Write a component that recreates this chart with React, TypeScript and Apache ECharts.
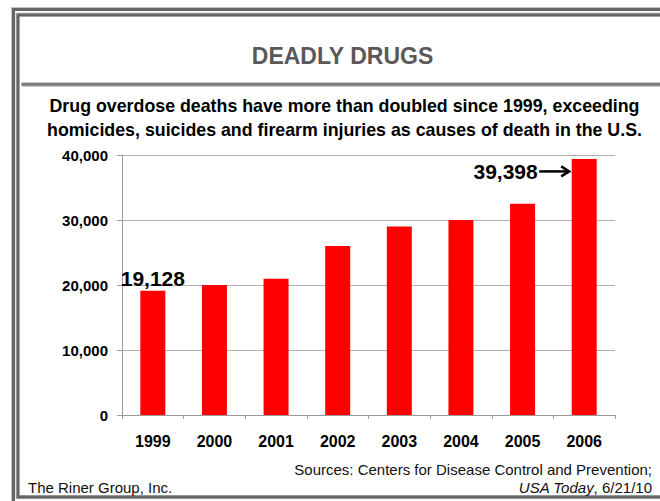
import React, { useEffect, useRef } from 'react';
import * as echarts from 'echarts';

const years = ['1999', '2000', '2001', '2002', '2003', '2004', '2005', '2006'];
const deaths = [19128, 20000, 20950, 26000, 29000, 30000, 32500, 39398];
const yMin = 0;
const yMax = 40000;
const yStep = 10000;
const titleText = 'DEADLY DRUGS';
const subtitleLines = [
  'Drug overdose deaths have more than doubled since 1999, exceeding',
  'homicides, suicides and firearm injuries as causes of death in the U.S.',
];
const creditText = 'The Riner Group, Inc.';
const sourceLine1 = 'Sources: Centers for Disease Control and Prevention;';
const sourcePublication = 'USA Today';
const sourceDate = ', 6/21/10';

const FONT = '"Liberation Sans", Arial, sans-serif';
const fmt = (v: number) => v.toLocaleString('en-US');

export default function App() {
  const ref = useRef<HTMLDivElement>(null);

  useEffect(() => {
    const chart = echarts.init(ref.current!, null, { renderer: 'svg' });
    const barWidth = 25;
    const lastIdx = deaths.length - 1;

    chart.setOption({
      animation: false,
      backgroundColor: '#ffffff',
      grid: { left: 122, right: 45, top: 155, bottom: 86, containLabel: false },
      xAxis: {
        type: 'category',
        data: years,
        axisLine: { show: true, lineStyle: { color: '#999999', width: 1 } },
        axisTick: { show: true, length: 4, lineStyle: { color: '#999999' } },
        axisLabel: {
          color: '#000000',
          fontFamily: FONT,
          fontWeight: 'bold',
          fontSize: 16,
          margin: 18,
        },
      },
      yAxis: {
        type: 'value',
        min: yMin,
        max: yMax,
        interval: yStep,
        axisLine: { show: true, lineStyle: { color: '#999999', width: 1 } },
        axisTick: { show: true, length: 5, lineStyle: { color: '#999999' } },
        splitLine: { show: true, lineStyle: { color: '#b0b0b0', width: 1 } },
        axisLabel: {
          color: '#000000',
          fontFamily: FONT,
          fontWeight: 'bold',
          fontSize: 15,
          margin: 14,
          formatter: (v: number) => fmt(v),
        },
      },
      series: [
        {
          type: 'bar',
          barWidth,
          itemStyle: { color: '#ff0000' },
          data: deaths.map((v, i) =>
            i === 0
              ? {
                  value: v,
                  label: {
                    show: true,
                    position: 'top',
                    distance: 2,
                    formatter: () => fmt(v),
                    color: '#000000',
                    fontFamily: FONT,
                    fontWeight: 'bold',
                    fontSize: 21,
                  },
                }
              : v
          ),
        },
      ],
    });

    const p = chart.convertToPixel({ seriesIndex: 0 }, [lastIdx, deaths[lastIdx]]) as number[];
    const barLeft = p[0] - barWidth / 2;
    const ay = p[1] + 12.5;
    const tipX = barLeft - 2.5;
    const startX = tipX - 30;

    const graphics: any[] = [
      // outer frame
      { type: 'rect', id: 'outerLight', silent: true, shape: { x: 13, y: 9, width: 700, height: 600 }, style: { fill: 'none', stroke: '#c4c4c4', lineWidth: 4 } },
      { type: 'rect', id: 'outerDark', silent: true, shape: { x: 13.5, y: 9.5, width: 700, height: 600 }, style: { fill: 'none', stroke: '#666666', lineWidth: 3 } },
      // inner frame
      { type: 'rect', id: 'innerLight', silent: true, shape: { x: 17.5, y: 14.5, width: 700, height: 482.5 }, style: { fill: 'none', stroke: '#c4c4c4', lineWidth: 4 } },
      { type: 'rect', id: 'innerDark', silent: true, shape: { x: 18, y: 15, width: 700, height: 482 }, style: { fill: 'none', stroke: '#666666', lineWidth: 3 } },
      // separator
      { type: 'rect', id: 'sepLight', silent: true, shape: { x: 21.5, y: 82, width: 700, height: 5 }, style: { fill: '#c4c4c4' } },
      { type: 'rect', id: 'sepDark', silent: true, shape: { x: 21.5, y: 83.3, width: 700, height: 2.2 }, style: { fill: '#6e6e6e' } },
      // title
      {
        type: 'text', id: 'title', x: 342.5, y: 55.5,
        style: { text: titleText, fill: '#595959', fontFamily: FONT, fontWeight: 'bold', fontSize: 23, align: 'center', verticalAlign: 'middle' },
      },
      {
        type: 'text', id: 'sub1', x: 344.5, y: 105.5,
        style: { text: subtitleLines[0], fill: '#000000', fontFamily: FONT, fontWeight: 'bold', fontSize: 17.8, align: 'center', verticalAlign: 'middle' },
      },
      {
        type: 'text', id: 'sub2', x: 344.5, y: 129.5,
        style: { text: subtitleLines[1], fill: '#000000', fontFamily: FONT, fontWeight: 'bold', fontSize: 17.8, align: 'center', verticalAlign: 'middle' },
      },
      // annotation for last bar
      {
        type: 'text', id: 'lastLabel', x: startX - 1.5, y: ay,
        style: { text: fmt(deaths[lastIdx]), fill: '#000000', fontFamily: FONT, fontWeight: 'bold', fontSize: 21, align: 'right', verticalAlign: 'middle' },
      },
      {
        type: 'line', id: 'arrowShaft', silent: true,
        shape: { x1: startX, y1: ay, x2: tipX - 1, y2: ay },
        style: { stroke: '#000000', lineWidth: 2.5 },
      },
      {
        type: 'polyline', id: 'arrowHead', silent: true,
        shape: { points: [[tipX - 8, ay - 5], [tipX, ay], [tipX - 8, ay + 5]] },
        style: { stroke: '#000000', lineWidth: 2.5, fill: 'none' },
      },
      // footer
      {
        type: 'text', id: 'credit', x: 28, y: 487.5,
        style: { text: creditText, fill: '#111111', fontFamily: FONT, fontSize: 15, align: 'left', verticalAlign: 'middle' },
      },
      {
        type: 'text', id: 'src1', x: 652, y: 469.5,
        style: { text: sourceLine1, fill: '#111111', fontFamily: FONT, fontSize: 15, align: 'right', verticalAlign: 'middle' },
      },
      {
        type: 'text', id: 'src2', x: 652, y: 487.5,
        style: {
          text: '{i|' + sourcePublication + '}{n|' + sourceDate + '}',
          fill: '#111111', fontFamily: FONT, fontSize: 15, align: 'right', verticalAlign: 'middle',
          rich: {
            i: { fontStyle: 'italic', fontFamily: FONT, fontSize: 15, fill: '#111111' },
            n: { fontFamily: FONT, fontSize: 15, fill: '#111111' },
          },
        },
      },
    ];

    chart.setOption({ graphic: graphics });

    return () => chart.dispose();
  }, []);

  return (
    <div
      ref={ref}
      style={{ position: 'absolute', left: 0, top: 0, width: 660, height: 501, background: '#ffffff' }}
    />
  );
}
